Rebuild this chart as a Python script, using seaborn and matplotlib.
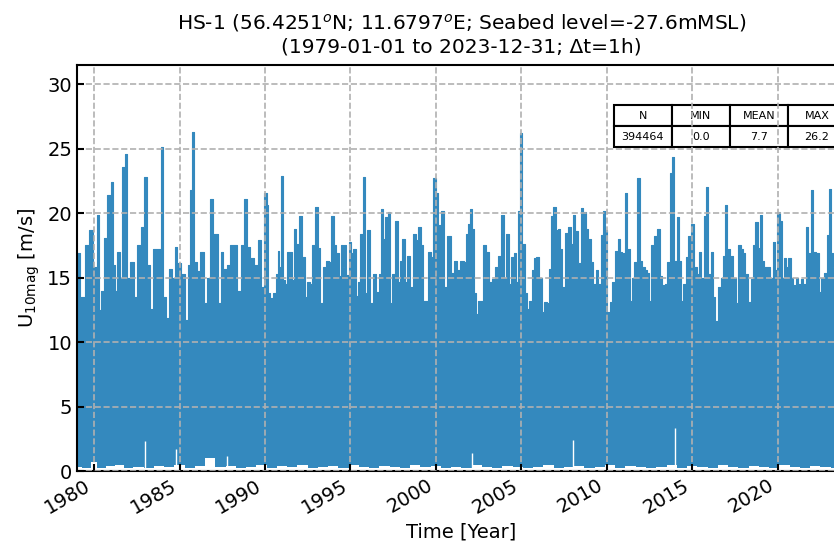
import matplotlib
matplotlib.use('Agg')
import matplotlib.pyplot as plt
import seaborn as sns
import pandas as pd

# upper envelope of the hourly wind speed series (decimal year, m/s)
peak_years = [1979.00, 1979.04, 1979.37, 1979.60, 1979.82, 1980.09, 1980.25, 1980.34, 1980.44, 1980.68,
              1980.89, 1981.07, 1981.18, 1981.32, 1981.42, 1981.57, 1981.75, 1981.87, 1982.00, 1982.24,
              1982.39, 1982.63, 1982.88, 1983.02, 1983.17, 1983.37, 1983.56, 1983.86, 1983.99, 1984.11,
              1984.31, 1984.44, 1984.64, 1984.79, 1984.97, 1985.22, 1985.42, 1985.55, 1985.67, 1985.81,
              1985.94, 1986.10, 1986.33, 1986.49, 1986.69, 1986.88, 1987.08, 1987.23, 1987.33, 1987.47,
              1987.66, 1987.86, 1988.05, 1988.25, 1988.48, 1988.68, 1988.87, 1989.03, 1989.22, 1989.52,
              1989.71, 1989.85, 1990.04, 1990.16, 1990.24, 1990.36, 1990.55, 1990.69, 1990.79, 1990.89,
              1990.98, 1991.08, 1991.22, 1991.37, 1991.53, 1991.67, 1991.76, 1991.92, 1992.11, 1992.25,
              1992.39, 1992.54, 1992.70, 1992.86, 1993.03, 1993.13, 1993.32, 1993.48, 1993.68, 1993.81,
              1993.95, 1994.11, 1994.26, 1994.40, 1994.50, 1994.61, 1994.69, 1994.85, 1994.98, 1995.12,
              1995.24, 1995.37, 1995.51, 1995.67, 1995.80, 1995.90, 1996.10, 1996.25, 1996.41, 1996.58,
              1996.74, 1996.84, 1996.95, 1997.13, 1997.27, 1997.38, 1997.52, 1997.72, 1997.85, 1997.97,
              1998.11, 1998.24, 1998.40, 1998.54, 1998.75, 1998.89, 1999.08, 1999.18, 1999.34, 1999.47,
              1999.67, 1999.76, 1999.92, 2000.06, 2000.19, 2000.39, 2000.55, 2000.78, 2000.94, 2001.17,
              2001.33, 2001.52, 2001.72, 2001.81, 2001.91, 2002.07, 2002.20, 2002.30, 2002.40, 2002.54,
              2002.69, 2002.85, 2003.02, 2003.18, 2003.37, 2003.57, 2003.76, 2003.92, 2004.06, 2004.19,
              2004.35, 2004.49, 2004.64, 2004.74, 2004.88, 2004.99, 2005.13, 2005.27, 2005.38, 2005.52,
              2005.68, 2005.81, 2005.97, 2006.13, 2006.26, 2006.40, 2006.56, 2006.69, 2006.79, 2006.95,
              2007.08, 2007.22, 2007.34, 2007.47, 2007.67, 2007.84, 2007.96, 2008.08, 2008.20, 2008.39,
              2008.55, 2008.70, 2008.84, 2008.98, 2009.13, 2009.29, 2009.42, 2009.56, 2009.72, 2009.85,
              2009.95, 2010.11, 2010.24, 2010.40, 2010.58, 2010.69, 2010.83, 2010.99, 2011.12, 2011.28,
              2011.41, 2011.57, 2011.67, 2011.86, 2011.98, 2012.16, 2012.35, 2012.41, 2012.55, 2012.68,
              2012.84, 2013.04, 2013.19, 2013.33, 2013.46, 2013.62, 2013.78, 2013.91, 2014.01, 2014.17,
              2014.29, 2014.40, 2014.56, 2014.70, 2014.85, 2015.03, 2015.18, 2015.34, 2015.48, 2015.61,
              2015.73, 2015.87, 2016.00, 2016.16, 2016.28, 2016.43, 2016.59, 2016.74, 2016.90, 2017.00,
              2017.13, 2017.33, 2017.49, 2017.62, 2017.76, 2017.91, 2018.03, 2018.21, 2018.34, 2018.50,
              2018.62, 2018.77, 2018.89, 2019.01, 2019.12, 2019.28, 2019.44, 2019.63, 2019.79, 2019.93,
              2020.06, 2020.18, 2020.30, 2020.41, 2020.55, 2020.69, 2020.84, 2021.00, 2021.16, 2021.27,
              2021.43, 2021.58, 2021.72, 2021.86, 2022.01, 2022.17, 2022.33, 2022.50, 2022.64, 2022.79,
              2022.95, 2023.09, 2023.18, 2023.28, 2023.50, 2023.75, 2024.00]
peak_speeds = [16.9, 16.9, 13.5, 17.5, 18.7, 15.8, 19.9, 12.5, 14.0, 18.1,
               21.4, 22.4, 16.0, 14.0, 17.0, 15.0, 23.6, 24.6, 15.0, 16.2,
               13.5, 17.5, 18.9, 22.8, 16.0, 12.6, 17.2, 17.2, 25.1, 13.5,
               11.9, 15.7, 15.0, 17.4, 16.1, 15.3, 11.7, 16.0, 21.8, 26.3,
               16.2, 15.5, 17.0, 13.0, 15.0, 21.1, 18.4, 18.4, 13.0, 17.0,
               15.7, 16.0, 17.5, 17.5, 14.0, 17.5, 21.1, 17.4, 16.5, 16.0,
               17.9, 14.3, 21.6, 20.6, 13.8, 13.4, 13.8, 15.3, 17.1, 15.8,
               22.9, 14.8, 14.5, 17.0, 17.0, 14.8, 18.8, 17.6, 19.8, 16.6,
               13.5, 14.7, 14.5, 17.5, 20.5, 17.3, 13.0, 15.8, 16.3, 16.2,
               19.8, 17.5, 16.9, 15.1, 17.5, 15.8, 17.5, 15.2, 17.8, 16.9,
               17.2, 13.6, 14.7, 18.4, 22.8, 13.8, 18.7, 13.0, 15.3, 13.9,
               15.3, 20.3, 18.0, 19.7, 20.1, 13.0, 15.3, 19.4, 14.7, 16.3,
               18.0, 14.7, 16.7, 14.3, 18.4, 17.9, 18.9, 17.5, 13.2, 13.2,
               17.0, 16.6, 22.7, 21.6, 19.1, 20.2, 14.3, 18.2, 15.4, 16.3,
               15.6, 16.3, 16.2, 18.4, 19.2, 20.3, 18.8, 13.8, 12.2, 13.2,
               13.2, 17.5, 17.0, 14.7, 14.9, 15.8, 16.7, 19.9, 15.0, 18.4,
               14.5, 16.6, 16.9, 14.7, 20.2, 26.2, 17.6, 13.8, 12.6, 13.2,
               15.6, 16.5, 16.6, 15.0, 12.3, 13.1, 13.0, 15.7, 19.8, 20.5,
               18.7, 18.8, 17.2, 14.3, 18.5, 18.9, 17.6, 19.9, 18.6, 16.1,
               20.4, 20.1, 18.8, 18.0, 16.2, 14.5, 15.6, 14.5, 18.3, 20.2,
               18.7, 12.3, 13.1, 14.7, 17.1, 18.0, 17.0, 16.9, 21.6, 17.2,
               13.2, 15.0, 16.2, 22.7, 16.3, 15.8, 15.6, 15.4, 13.2, 17.5,
               18.2, 18.8, 15.1, 14.4, 14.5, 16.2, 23.1, 24.4, 16.3, 19.7,
               16.3, 13.2, 14.5, 16.6, 18.2, 19.2, 15.8, 15.3, 17.0, 15.0,
               19.8, 22.0, 15.3, 17.0, 13.5, 11.6, 14.3, 15.0, 16.7, 20.6,
               17.2, 16.7, 15.0, 13.0, 17.5, 17.2, 16.9, 15.3, 13.1, 14.9,
               17.5, 19.3, 17.3, 19.9, 16.3, 15.8, 15.8, 15.0, 17.8, 15.6,
               20.1, 19.4, 15.0, 16.5, 15.8, 16.5, 15.0, 14.4, 15.0, 14.5,
               14.9, 14.5, 18.9, 16.9, 21.8, 17.0, 16.9, 13.9, 15.0, 15.4,
               18.3, 21.9, 16.9, 15.8, 15.0, 17.0, 15.0]

# lower envelope (calm spells at the bottom of the band)
low_years = [1979.0, 1979.6, 1980.0, 1980.4, 1981.0, 1981.5, 1982.0, 1982.6, 1983.2, 1983.8,
             1984.4, 1985.0, 1985.6, 1986.2, 1986.8, 1987.4, 1988.0, 1988.6, 1989.2, 1989.8,
             1990.4, 1991.0, 1991.6, 1992.2, 1992.8, 1993.4, 1994.0, 1994.6, 1995.2, 1995.8,
             1996.4, 1997.0, 1997.6, 1998.2, 1998.8, 1999.4, 2000.0, 2000.6, 2001.2, 2001.8,
             2002.4, 2003.0, 2003.6, 2004.2, 2004.8, 2005.4, 2006.0, 2006.6, 2007.2, 2007.8,
             2008.4, 2009.0, 2009.6, 2010.2, 2010.8, 2011.4, 2012.0, 2012.6, 2013.2, 2013.8,
             2014.4, 2015.0, 2015.6, 2016.2, 2016.8, 2017.4, 2018.0, 2018.6, 2019.2, 2019.8,
             2020.4, 2021.0, 2021.6, 2022.2, 2022.8, 2023.4, 2024.0]
low_speeds = [0.3, 0.2, 0.7, 0.2, 0.4, 0.5, 0.2, 0.3, 0.2, 0.4,
              0.3, 0.5, 0.2, 0.4, 1.0, 0.3, 0.4, 0.2, 0.3, 0.5,
              0.2, 0.4, 0.3, 0.5, 0.2, 0.3, 0.4, 0.2, 0.5, 0.3,
              0.2, 0.4, 0.3, 0.2, 0.5, 0.3, 0.4, 0.2, 0.3, 0.2,
              0.5, 0.3, 0.2, 0.4, 0.3, 0.2, 0.3, 0.5, 0.2, 0.3,
              0.4, 0.2, 0.3, 0.5, 0.2, 0.4, 0.3, 0.2, 0.3, 0.5,
              0.2, 0.4, 0.3, 0.2, 0.5, 0.3, 0.2, 0.4, 0.3, 0.2,
              0.5, 0.3, 0.2, 0.4, 0.3, 0.2, 0.3]
# isolated calm hours that show as thin white lines
notch_years = [1982.98, 1984.80, 1987.76, 2002.10, 2008.04, 2014.00]
notch_speeds = [2.3, 1.7, 1.2, 1.4, 2.4, 3.3]

year_ticks = [1980, 1985, 1990, 1995, 2000, 2005, 2010, 2015, 2020]
speed_ticks = [0, 5, 10, 15, 20, 25, 30]
stat_names = ['N', 'MIN', 'MEAN', 'MAX']
stat_values = ['394464', '0.0', '7.7', '26.2']

blue = '#3489be'

sns.set_style('white')
plt.rcParams['font.family'] = ['DejaVu Sans']
plt.rcParams['text.color'] = 'black'
plt.rcParams['axes.labelcolor'] = 'black'

fig = plt.figure(figsize=(8.34, 5.48), dpi=100)
# axes run a little past the right edge of the saved picture, as in the original
ax = fig.add_axes([0.0923, 0.1405, 0.922, 0.7409])

df = pd.DataFrame({'year': peak_years, 'speed': peak_speeds})
ax.fill_between(df['year'], 0, df['speed'], step='mid', color=blue, lw=0, zorder=1)
sns.lineplot(data=df, x='year', y='speed', ax=ax, color=blue, lw=0.8,
             drawstyle='steps-mid', zorder=1.5)
ax.fill_between(low_years, 0, low_speeds, step='mid', color='white', lw=0, zorder=1.6)
ax.vlines(notch_years, 0, notch_speeds, color='white', lw=1, zorder=1.6)

ax.set_xlim(1979, 2024)
ax.set_ylim(0, 31.5)
ax.set_xticks(year_ticks)
ax.set_xticklabels([str(y) for y in year_ticks], rotation=30, ha='right')
ax.set_yticks(speed_ticks)

ax.set_axisbelow(False)
ax.grid(True, ls='--', color='#b0b0b0', lw=1.2)
ax.tick_params(direction='in', length=5, width=1.5, labelsize=14,
               bottom=True, left=True, colors='black')
for s in ax.spines.values():
    s.set_color('black')
    s.set_linewidth(1.5)

ax.set_xlabel('Time [Year]', fontsize=14)
ax.set_ylabel('$\\mathregular{U_{10mag}}$ [m/s]', fontsize=14)
ax.set_title('HS-1 (56.4251$^o$N; 11.6797$^o$E; Seabed level=-27.6mMSL)\n'
             '(1979-01-01 to 2023-12-31; \u0394t=1h)', fontsize=14.5, pad=9)

tbl = ax.table(cellText=[stat_values], colLabels=stat_names, cellLoc='center',
               bbox=[0.698, 0.798, 0.302, 0.103], zorder=2.2)
tbl.auto_set_font_size(False)
tbl.set_fontsize(8)
for cell in tbl.get_celld().values():
    cell.set_linewidth(1.5)

plt.savefig('out.png', dpi=100)
plt.close()
